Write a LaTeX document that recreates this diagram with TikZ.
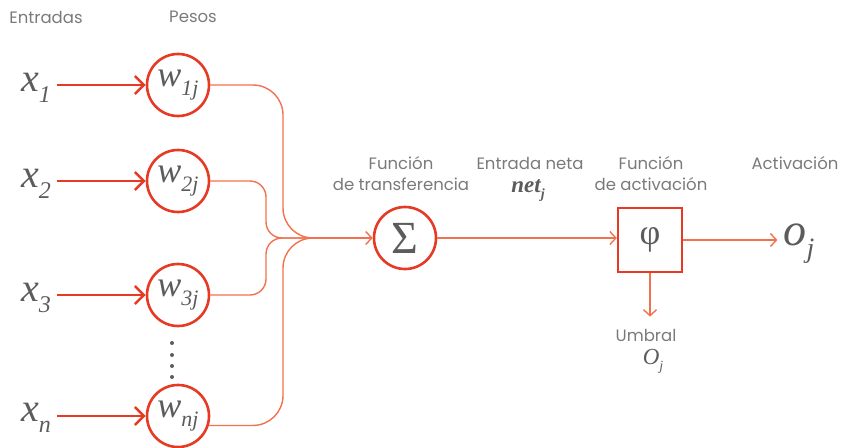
\documentclass[tikz,border=0pt]{standalone}
\usepackage{fontspec}
\usetikzlibrary{arrows.meta}
\newfontfamily\lab{Poppins}
\newfontfamily\mth{Liberation Serif}
\newcommand\sv[4]{{\mth\itshape\fontsize{#1}{#1}\selectfont #3\raisebox{-0.26em}{\fontsize{#2}{#2}\selectfont #4}}}
\definecolor{redA}{HTML}{E63A25}
\definecolor{orA}{HTML}{F2714F}
\definecolor{txtA}{HTML}{7A7A7A}
\definecolor{mtxtA}{HTML}{5C5C5C}
\begin{document}
\begin{tikzpicture}[x=1pt,y=-1pt,
  lbl/.style={font=\lab\fontsize{16.5}{21}\selectfont, text=txtA, inner sep=0pt, align=center},
  var/.style={text=mtxtA, inner sep=0pt},
  wc/.style={circle, draw=redA, line width=2.6pt, minimum size=62pt, inner sep=0pt, text=mtxtA},
  thickarrow/.style={draw=redA, line width=2.6pt, -{Straight Barb[length=9pt,width=18pt]}},
  thinline/.style={draw=orA, line width=1.4pt},
  thinarrow/.style={thinline, -{Straight Barb[length=6pt,width=13pt]}}
]
\useasboundingbox (0,0) rectangle (842,447);

% headers
\node[lbl] (hin) at (46,17) {Entradas};
\node[lbl] (hw) at (193,17) {Pesos};

% weight circles
\node[wc] (w1) at (178,85) {\sv{36}{22}{w}{1j}};
\node[wc] (w2) at (178,181) {\sv{36}{22}{w}{2j}};
\node[wc] (w3) at (178,295) {\sv{36}{22}{w}{3j}};
\node[wc] (wn) at (178,416) {\sv{36}{22}{w}{nj}};

% inputs
\node[var] (x1) at (36,88) {\sv{40}{24}{x}{1}};
\node[var] (x2) at (36,184) {\sv{40}{24}{x}{2}};
\node[var] (x3) at (36,298) {\sv{40}{24}{x}{3}};
\node[var] (xn) at (36,418) {\sv{40}{24}{x}{n}};

\foreach \i in {1,2,3,n}{
  \draw[thickarrow] ([xshift=6pt]x\i.east |- w\i.west) -- (w\i.west);
}

% dots
\foreach \yy in {343,355,366,377}{
  \fill[mtxtA] (172,\yy) circle (2pt);
}

% merge
\coordinate (m) at (320,238);
\draw[thinline, rounded corners=30pt] (w1.east) -| (283,238) -- (m);
\draw[thinline, rounded corners=16pt] (w2.east) -| (266,238) -- (m);
\draw[thinline, rounded corners=16pt] (w3.east) -| (266,238) -- (m);
\draw[thinline, rounded corners=30pt] (wn.-17) -| (283,238) -- (m);

% sum
\node[wc, font=\mth\fontsize{46}{46}\selectfont] (sig) at (405,238) {Σ};
\draw[thinarrow] (m) -- (sig.west);

\node[lbl] (ht) at (401,173.5) {Función\\de transferencia};
\node[lbl] (hen) at (530,163) {Entrada neta};
\node[var] (net) at (528,191) {\sv{23}{14}{\bfseries net}{j}};

% activation box
\node[draw=redA, line width=2.4pt, minimum width=64pt, minimum height=64pt, inner sep=0pt,
      text=mtxtA, font=\mth\fontsize{36}{36}\selectfont] (phi) at (650,240) {φ};
\draw[thinarrow] (sig.east) -- (phi.west |- sig.east);

\node[lbl] (ha) at (651,173.5) {Función\\de activación};
\node[lbl] (hact) at (795,163) {Activación};

\node[var] (o) at (799,244) {\sv{46}{28}{o}{j}};
\draw[thinarrow] (phi.east) -- ([xshift=-6pt]phi.east -| o.west);

% threshold
\node[lbl] (umb) at (646,335) {Umbral};
\node[var] (Oj) at (653,361) {\sv{23}{14}{O}{j}};
\draw[thinarrow] (phi.south) -- ([yshift=12pt]phi.south |- umb.north);
\end{tikzpicture}
\end{document}
